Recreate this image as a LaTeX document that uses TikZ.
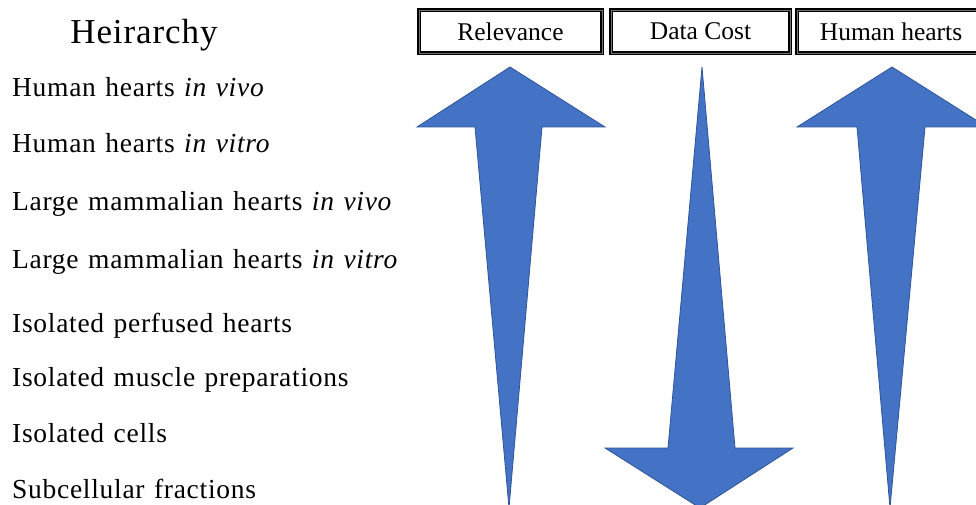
\documentclass[tikz,border=0pt]{standalone}
\usepackage{fontspec}
\setmainfont{Liberation Serif}
\newfontfamily\spaced[LetterSpace=2.6,WordSpace=1.25]{Liberation Serif}
\definecolor{arrowblue}{HTML}{4472C4}
\definecolor{arrowedge}{HTML}{2F5597}
\begin{document}
\begin{tikzpicture}[x=1pt,y=-1pt,
  listitem/.style={anchor=base west,inner sep=0pt,font=\spaced\fontsize{27.5}{32}\selectfont},
  headbox/.style={draw=black,line width=1.3pt,double=black!55,double distance=0.9pt,
     inner sep=0pt,minimum height=43pt,font=\fontsize{25.5}{29}\selectfont},
  bigarrow/.style={fill=arrowblue,draw=arrowedge,line width=0.8pt,line join=miter}]
\useasboundingbox (0,0) rectangle (976,505);
\clip (0,0) rectangle (976,505);
\fill[white] (0,0) rectangle (976,505);
% left column
\node[anchor=base,inner sep=0pt,font=\spaced\fontsize{35}{39}\selectfont] (title) at (144,44) {Heirarchy};
\node[listitem] (l1) at (12,97) {Human hearts \textit{in vivo}};
\node[listitem] (l2) at (12,153) {Human hearts \textit{in vitro}};
\node[listitem] (l3) at (12,210) {Large mammalian hearts \textit{in vivo}};
\node[listitem] (l4) at (12,268) {Large mammalian hearts \textit{in vitro}};
\node[listitem] (l5) at (12,332) {Isolated perfused hearts};
\node[listitem] (l6) at (12,386) {Isolated muscle preparations};
\node[listitem] (l7) at (12,442) {Isolated cells};
\node[listitem] (l8) at (12,498) {Subcellular fractions};
% header boxes
\node[headbox,minimum width=183pt] (relevance) at (510.5,31.5) {Relevance};
\node[headbox,minimum width=179pt] (cost) at (700.5,31.5) {Data Cost};
\node[headbox,minimum width=188pt] (human) at (891,31.5) {Human hearts};
% arrows
\draw[bigarrow] (510,67) -- (605,127) -- (542,127) -- (509,508) -- (475,127) -- (417,127) -- cycle;
\draw[bigarrow] (702,67) -- (735,448) -- (793,448) -- (700,508) -- (605,448) -- (668,448) -- cycle;
\draw[bigarrow] (892,67) -- (987,127) -- (925,127) -- (890,508) -- (857,127) -- (797,127) -- cycle;
\end{tikzpicture}
\end{document}
